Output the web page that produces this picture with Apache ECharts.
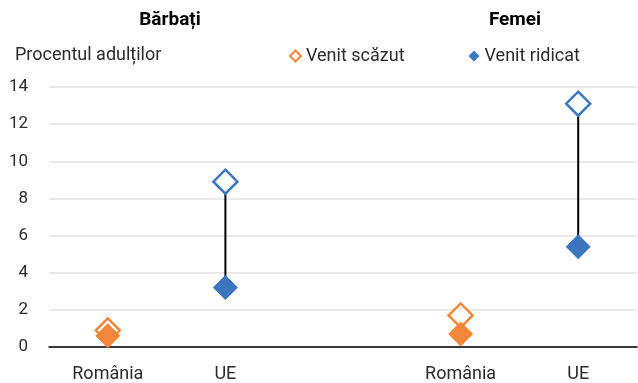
<!DOCTYPE html>
<html>
<head>
<meta charset="utf-8">
<script src="https://cdn.jsdelivr.net/npm/echarts@6/dist/echarts.min.js"></script>
<style>
  html, body { margin: 0; padding: 0; background: #fff; }
  #chart { width: 638px; height: 383px; }
</style>
</head>
<body>
<div id="chart"></div>
<script>
// Category slots: men (România, UE), a spacer, women (România, UE)
var categoryKeys = ['ro_m', 'ue_m', 'gap', 'ro_f', 'ue_f'];
var categoryLabels = ['România', 'UE', '', 'România', 'UE'];
var panelTitles = ['Bărbați', 'Femei'];

// Share of adults (%) by income group
var lowIncome = [0.9, 8.9, null, 1.7, 13.1];   // Venit scăzut
var highIncome = [0.6, 3.2, null, 0.7, 5.4];   // Venit ridicat

var yTicks = [0, 2, 4, 6, 8, 10, 12, 14];

var ORANGE = '#F5873A';
var BLUE = '#3A75BD';
var pointColors = [ORANGE, BLUE, null, ORANGE, BLUE];
var FONT = 'Roboto';
var FS = 17;

var chart = echarts.init(document.getElementById('chart'), null, { renderer: 'canvas' });

function pointData(values, hollow) {
  var out = [];
  values.forEach(function (v, i) {
    if (v == null) return;
    out.push({
      value: [i, v],
      itemStyle: hollow
        ? { color: '#ffffff', borderColor: pointColors[i], borderWidth: 2.5, opacity: 1 }
        : { color: pointColors[i], opacity: 1 }
    });
  });
  return out;
}

// Black connectors between the two income groups of each slot
var connectors = [];
lowIncome.forEach(function (v, i) {
  if (v == null || highIncome[i] == null) return;
  connectors.push({
    type: 'line',
    name: 'range_' + categoryKeys[i],
    data: [[i, highIncome[i]], [i, v]],
    symbol: 'none',
    lineStyle: { color: '#000000', width: 2 },
    z: 1,
    silent: true,
    animation: false
  });
});

var option = {
  animation: false,
  textStyle: { fontFamily: FONT },
  title: [
    { text: panelTitles[0], left: 165, top: 6, textAlign: 'center',
      textStyle: { fontFamily: FONT, fontSize: 19, fontWeight: 'bold', color: '#000' } },
    { text: panelTitles[1], left: 510, top: 6, textAlign: 'center',
      textStyle: { fontFamily: FONT, fontSize: 19, fontWeight: 'bold', color: '#000' } },
    { text: 'Procentul adulților', left: 10, top: 41,
      textStyle: { fontFamily: FONT, fontSize: 18, fontWeight: 'normal', color: '#2b2b2b' } }
  ],
  legend: {
    left: 284, top: 42,
    itemWidth: 11, itemHeight: 11, itemGap: 64,
    textStyle: { fontFamily: FONT, fontSize: 18, color: '#2b2b2b' },
    data: [
      { name: 'Venit scăzut', icon: 'diamond',
        itemStyle: { color: '#fff', borderColor: ORANGE, borderWidth: 2, opacity: 1 } },
      { name: 'Venit ridicat', icon: 'diamond',
        itemStyle: { color: BLUE, borderWidth: 0, opacity: 1 } }
    ],
    selectedMode: false
  },
  grid: { left: 49, right: 1, top: 87, bottom: 35 },
  xAxis: {
    type: 'category',
    data: categoryKeys,
    boundaryGap: true,
    axisLine: { lineStyle: { color: '#000', width: 1.5 } },
    axisTick: { show: false },
    axisLabel: {
      interval: 0, margin: 18,
      fontFamily: FONT, fontSize: FS + 1, color: '#2b2b2b',
      formatter: function (v, i) { return categoryLabels[i]; }
    },
    splitLine: { show: false }
  },
  yAxis: {
    type: 'value',
    min: yTicks[0], max: yTicks[yTicks.length - 1], interval: 2,
    axisLine: { show: false },
    axisTick: { show: false },
    axisLabel: { margin: 21, fontFamily: FONT, fontSize: FS, color: '#2b2b2b' },
    splitLine: { lineStyle: { color: '#e3e3e3', width: 1.5 } }
  },
  series: connectors.concat([
    {
      type: 'scatter', name: 'Venit scăzut',
      symbol: 'diamond', symbolSize: 24,
      data: pointData(lowIncome, true),
      itemStyle: { color: '#fff', borderColor: ORANGE, borderWidth: 2.5, opacity: 1 },
      emphasis: { disabled: true },
      z: 3
    },
    {
      type: 'scatter', name: 'Venit ridicat',
      symbol: 'diamond', symbolSize: 25,
      data: pointData(highIncome, false),
      itemStyle: { color: BLUE, opacity: 1 },
      emphasis: { disabled: true },
      z: 4
    }
  ])
};

chart.setOption(option);
</script>
</body>
</html>
